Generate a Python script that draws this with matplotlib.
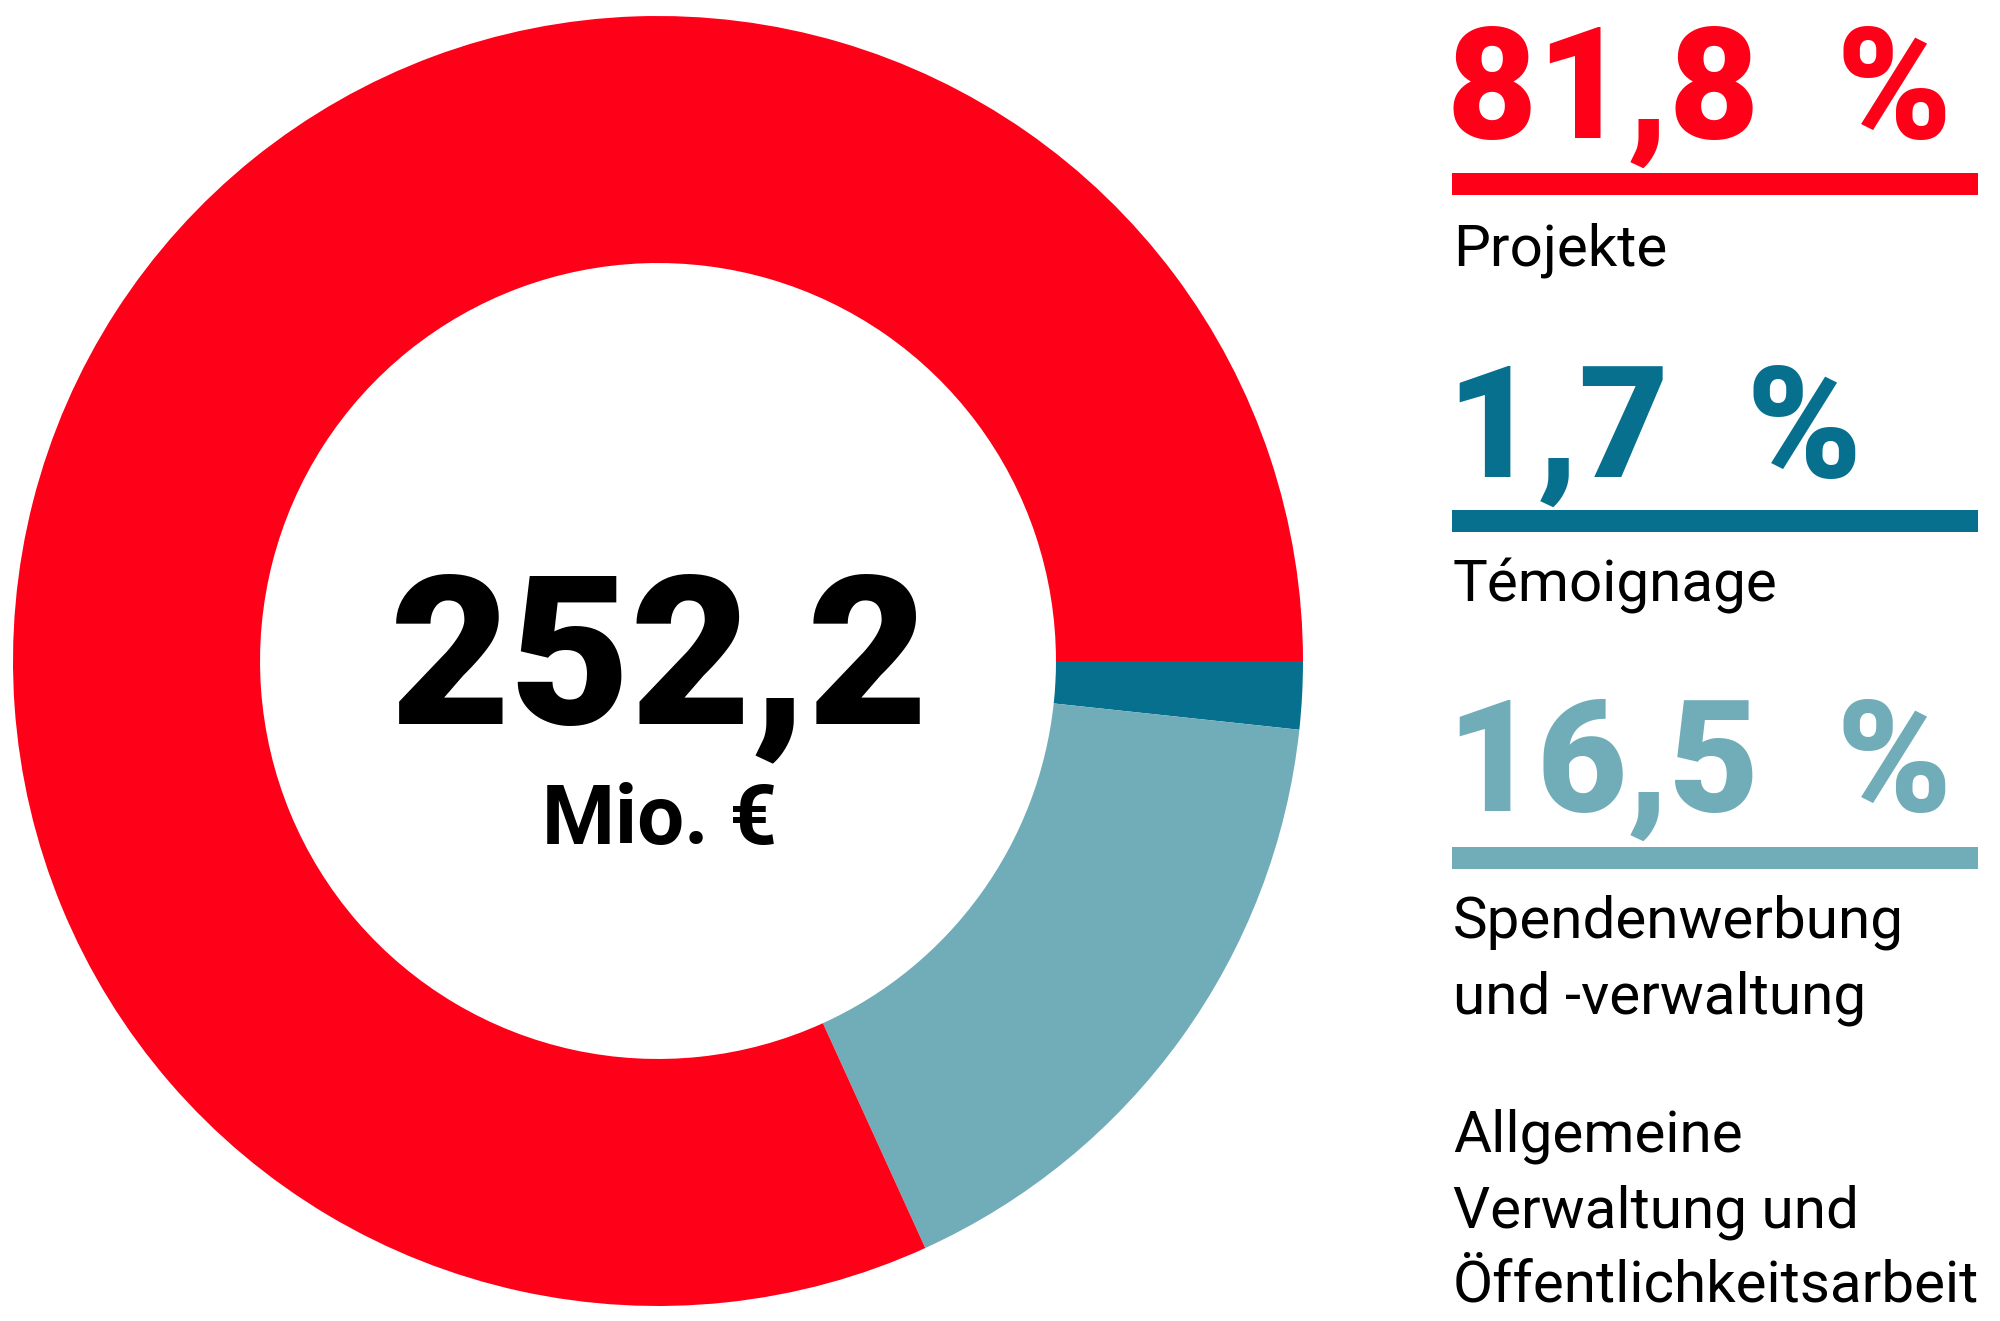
import matplotlib
matplotlib.use("Agg")
import matplotlib.pyplot as plt
from matplotlib.patches import Rectangle

# shares in legend order (top to bottom)
categories = ["Projekte", "Témoignage", "Spendenwerbung\nund -verwaltung"]
shares = [81.8, 1.7, 16.5]
share_labels = ["81,8 %", "1,7 %", "16,5 %"]
colors = ["#FF0019", "#06708E", "#71ADB9"]
extra_label = "Allgemeine\nVerwaltung und\nÖffentlichkeitsarbeit"
total_value = "252,2"
total_unit = "Mio. €"

W, H = 2000, 1321
fig = plt.figure(figsize=(W / 100, H / 100), dpi=100)
fig.patch.set_facecolor("white")


def fx(x):
    return x / W


def fy(y):
    # y measured from the top in pixels
    return 1 - y / H


# donut: centre (658, 661) px, outer radius 645 px
cx, cy, r = 658, 661, 645
ax = fig.add_axes([fx(cx - r), fy(cy + r), 2 * r / W, 2 * r / H])

# clockwise from 3 o'clock: Témoignage, Spendenwerbung, Projekte
order = [1, 2, 0]
ax.pie([shares[i] for i in order], colors=[colors[i] for i in order],
       startangle=0, counterclock=False, radius=1,
       wedgeprops=dict(width=0.383, linewidth=0))
ax.set_xlim(-1, 1)
ax.set_ylim(-1, 1)
ax.set_aspect("equal")
ax.axis("off")

big = dict(family=["Roboto", "DejaVu Sans"], weight="black")
small = dict(family=["Roboto", "DejaVu Sans"], weight="normal")

fig.text(fx(659), fy(723), total_value, ha="center", va="baseline",
         fontsize=150, color="black", **big)
fig.text(fx(660), fy(844), total_unit, ha="center", va="baseline",
         fontsize=60, color="black", **dict(big, weight="bold"))

# right column
num_baselines = [138, 477, 811]
bar_tops = [173, 510, 847]
label_baselines = [266, 602, 938]
line_gap = 75

for i in range(len(categories)):
    # wider gap before the percent sign, as in the original layout
    fig.text(fx(1447), fy(num_baselines[i]), share_labels[i].replace(" ", "  "),
             ha="left", va="baseline", fontsize=112, color=colors[i], **big)
    fig.add_artist(Rectangle((fx(1452), fy(bar_tops[i] + 22)), fx(1978) - fx(1452),
                             22 / H, transform=fig.transFigure,
                             facecolor=colors[i], edgecolor="none"))
    for j, line in enumerate(categories[i].split("\n")):
        fig.text(fx(1453), fy(label_baselines[i] + j * line_gap), line,
                 ha="left", va="baseline", fontsize=42, color="black", **small)

for j, line in enumerate(extra_label.split("\n")):
    fig.text(fx(1453), fy(1152 + j * line_gap), line, ha="left",
             va="baseline", fontsize=42, color="black", **small)

fig.savefig("out.png", dpi=100, facecolor="white")
